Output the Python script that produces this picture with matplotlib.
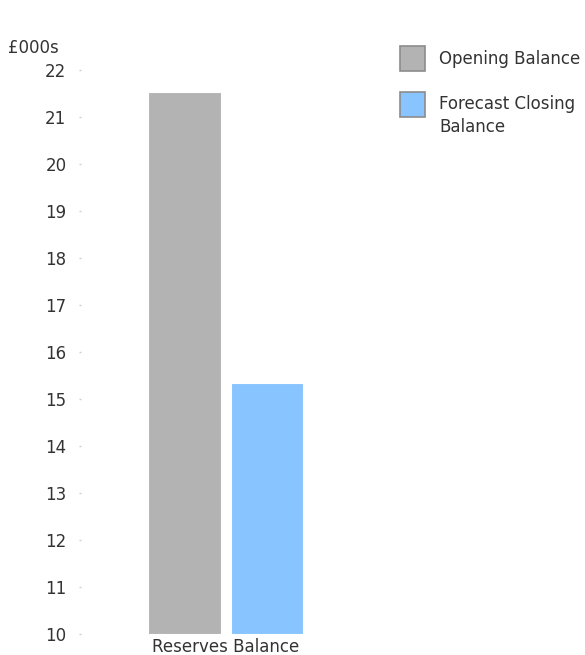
import matplotlib.pyplot as plt
from matplotlib.patches import Rectangle

# data
category = 'Reserves Balance'
series = ['Opening Balance', 'Forecast Closing\nBalance']
values = [21.53, 15.34]
colours = ['#b3b3b3', '#88c4ff']
yTicks = list(range(10, 23))

plt.rcParams['font.family'] = ['DejaVu Sans']
textCol = '#333333'
fs = 12
W, H = 585, 655

fig = plt.figure(figsize=(W / 100, H / 100), dpi=100)
# axes box in pixels: left 81, right 370, top 70, bottom 634
ax = fig.add_axes([81 / W, 21 / H, 289 / W, 564 / H])

barWidth = 0.35
offsets = [-0.199, 0.199]
for off, val, col in zip(offsets, values, colours):
	ax.bar(off, val - 10, bottom=10, width=barWidth, color=col,
		edgecolor='white', linewidth=0.8)

ax.set_xlim(-0.699, 0.697)
ax.set_ylim(10, 22)
ax.set_yticks(yTicks)
ax.set_yticklabels([str(t) for t in yTicks], fontsize=fs, color=textCol)
ax.tick_params(axis='y', length=1.5, width=1, color='#d0d0d0', pad=9)
ax.set_xticks([0])
ax.set_xticklabels([category], fontsize=fs, color=textCol)
ax.tick_params(axis='x', length=0, pad=3)
for s in ax.spines.values():
	s.set_visible(False)

fig.text(8 / W, 1 - 48 / H, '£000s', fontsize=fs, color=textCol, va='center')

# legend drawn by hand so the swatch lines up with the first text line
swatchTops = [46, 92]
textCentres = [58.5, 115.5]
for col, lab, top, yc in zip(colours, series, swatchTops, textCentres):
	fig.patches.append(Rectangle((400 / W, 1 - (top + 25) / H), 25 / W, 25 / H,
		transform=fig.transFigure, facecolor=col, edgecolor='#8c8c8c', linewidth=1.2))
	fig.text(439 / W, 1 - yc / H, lab, fontsize=fs, color=textCol, va='center',
		linespacing=1.35)

fig.savefig('out.png', dpi=100)
